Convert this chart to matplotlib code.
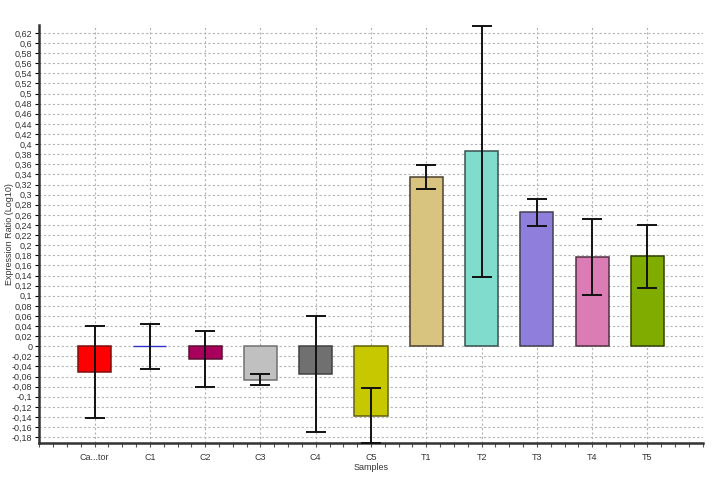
import numpy as np
import matplotlib
matplotlib.use('Agg')
import matplotlib.pyplot as plt
from matplotlib.ticker import FuncFormatter, MultipleLocator

plt.rcParams['font.family'] = ['Liberation Sans', 'DejaVu Sans']

# Werte
samples = ['Ca...tor', 'C1', 'C2', 'C3', 'C4', 'C5', 'T1', 'T2', 'T3', 'T4', 'T5']
ratio = [-0.050, 0.0, -0.025, -0.066, -0.055, -0.137, 0.335, 0.386, 0.265, 0.177, 0.178]
err = [0.091, 0.044, 0.055, 0.011, 0.115, 0.054, 0.023, 0.248, 0.027, 0.075, 0.062]
farben = ['#ff0000', '#3333cc', '#a8005c', '#c0c0c0', '#707070', '#c8c800',
          '#d8c47e', '#80dccc', '#907edc', '#dc7cb4', '#80ac00']
kanten = ['#7a1010', '#3333cc', '#5a1030', '#707070', '#404040', '#606010',
          '#4a4030', '#3a5050', '#404050', '#503040', '#304000']

fig = plt.figure(figsize=(7.13, 4.83), dpi=100)
ax = fig.add_axes([0.0551, 0.0822, 0.9305, 0.8658])

x = np.arange(len(samples))
for i in range(len(samples)):
    if ratio[i] == 0:
        ax.hlines(0, x[i] - 0.3, x[i] + 0.3, color=farben[i], lw=1, zorder=3)
    else:
        ax.bar(x[i], ratio[i], width=0.6, color=farben[i], edgecolor=kanten[i],
               linewidth=1.1, zorder=3)
ax.errorbar(x, ratio, yerr=err, fmt='none', ecolor='#111111', elinewidth=1.4,
            capsize=7.5, capthick=1.4, zorder=4)

ax.set_xlim(-1, 11)
ax.set_ylim(-0.192, 0.6355)
ax.set_xticks(x)
ax.set_xticklabels(samples, fontsize=6.5, color='#333333')
ax.xaxis.set_minor_locator(MultipleLocator(0.25))
ax.yaxis.set_major_locator(MultipleLocator(0.02))


def komma(v, pos):
    s = ('%.2f' % v).rstrip('0').rstrip('.')
    if s in ('-0', ''):
        s = '0'
    return s.replace('.', ',')


ax.yaxis.set_major_formatter(FuncFormatter(komma))
ax.tick_params(axis='y', labelsize=6.5, labelcolor='#333333', length=3, width=0.8, pad=2)
ax.tick_params(axis='x', which='major', length=3, width=0.8, direction='out', pad=4,
               color='#555555')
ax.tick_params(axis='x', which='minor', length=3, width=0.8, direction='out', color='#555555')

ax.grid(True, which='major', axis='both', linestyle=(0, (2, 2)), color='#b4b4b4', lw=0.8, zorder=0)
ax.set_axisbelow(True)

for s in ['top', 'right']:
    ax.spines[s].set_visible(False)
for s in ['left', 'bottom']:
    ax.spines[s].set_linewidth(1.8)
    ax.spines[s].set_color('#333333')

ax.set_xlabel('Samples', fontsize=6.5, color='#333333', labelpad=1)
ax.set_ylabel('Expression Ratio (Log10)', fontsize=6.5, color='#333333')
ax.yaxis.set_label_coords(-0.038, 0.5)

fig.savefig('out.png', dpi=100)
